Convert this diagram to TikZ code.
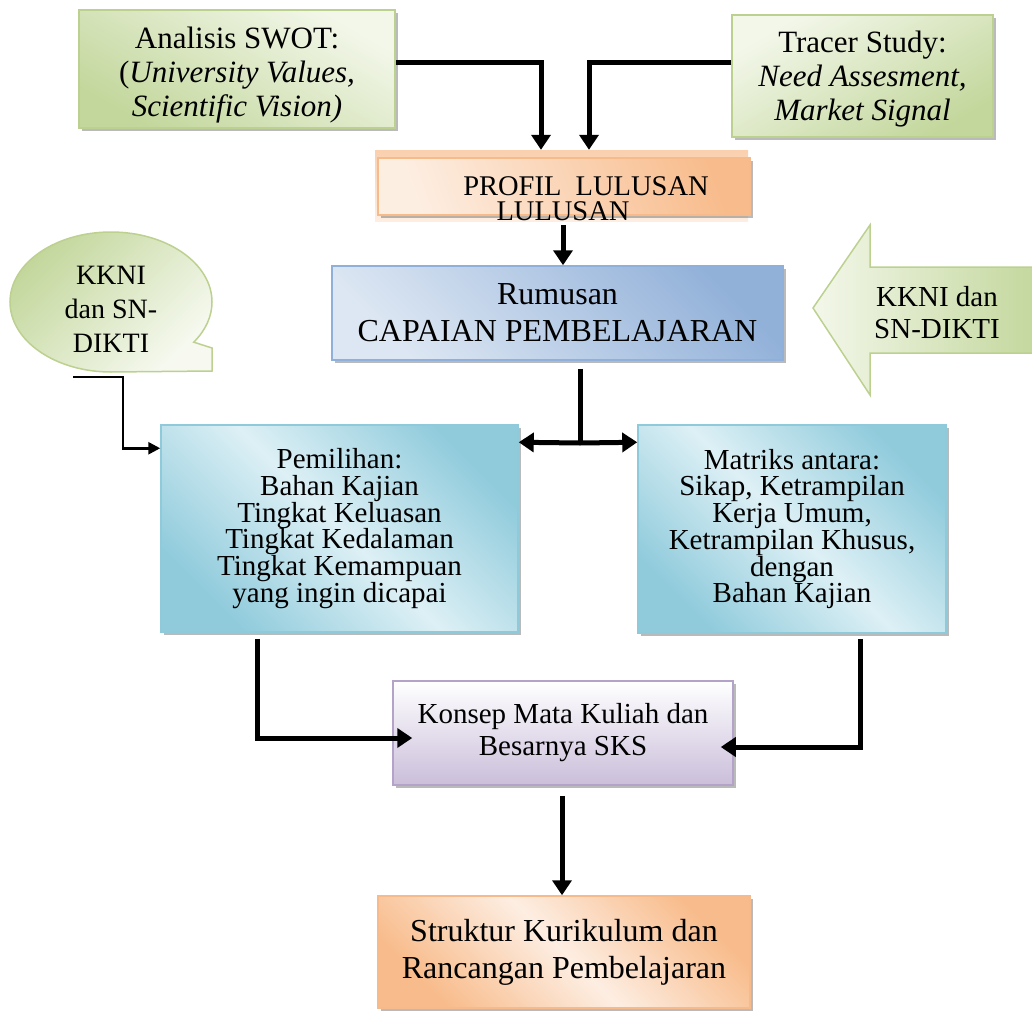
\documentclass[tikz,border=0pt]{standalone}
\usepackage{fontspec}
\setmainfont{Liberation Serif}[ItalicFont={Liberation Serif Italic}]
\usetikzlibrary{arrows.meta,calc,shadows}

% fill and border colours
\definecolor{grnL}{HTML}{F3F7EA}
\definecolor{grnD}{HTML}{C3D79C}
\definecolor{grnB}{HTML}{BCD190}
\definecolor{orgL}{HTML}{FDEEE2}
\definecolor{orgD}{HTML}{F8BC8C}
\definecolor{orgB}{HTML}{F7BA8A}
\definecolor{bluL}{HTML}{DDE7F3}
\definecolor{bluD}{HTML}{92B1D9}
\definecolor{bluB}{HTML}{8EB0DA}
\definecolor{tealL}{HTML}{DDF0F5}
\definecolor{tealD}{HTML}{90CBDC}
\definecolor{tealB}{HTML}{8FCADB}
\definecolor{lavD}{HTML}{CABEDA}
\definecolor{lavB}{HTML}{B3A3C8}

% type sizes (picture unit = 1pt)
\newcommand\sizeTop{\fontsize{31}{34}\selectfont\lineskiplimit=-100pt}
\newcommand\sizeMid{\fontsize{29}{26.7}\selectfont\lineskiplimit=-100pt}
\newcommand\sizeBig{\fontsize{32}{37}\selectfont\lineskiplimit=-100pt}
\newcommand\sizeSml{\fontsize{29}{32}\selectfont\lineskiplimit=-100pt}
\newcommand\sizeProf{\fontsize{28.5}{25}\selectfont}
\newcommand\sizeBub{\fontsize{28}{34}\selectfont\lineskiplimit=-100pt}

\tikzset{
  box/.style={rectangle, line width=1.5pt, align=center, inner sep=0pt,
    drop shadow={shadow xshift=3pt, shadow yshift=-3pt, opacity=.45, fill=black!60}},
  greenbox/.style={box, draw=grnB, top color=grnL, bottom color=grnD},
  orangebox/.style={box, draw=orgB, left color=orgD, right color=orgD, middle color=orgL, shading angle=-45},
  bluebox/.style={box, draw=bluB, top color=bluD, bottom color=bluL, shading angle=-45},
  tealbox/.style={box, draw=tealB, left color=tealD, right color=tealD, middle color=tealL, shading angle=-45},
  lavbox/.style={box, draw=lavB, top color=white, bottom color=lavD},
  label/.style={align=center, inner sep=0pt},
  conn/.style={line width=5pt, line join=miter, -{Triangle[length=15pt,width=19pt]}},
  thinconn/.style={line width=2.6pt, line join=miter, -{Triangle[length=12pt,width=12pt]}},
}

\begin{document}
\begin{tikzpicture}[x=1pt,y=-1pt]
\path[use as bounding box] (0,0) rectangle (1032,1014);

% top sources
\node[greenbox, shading angle=-30, minimum width=316pt, minimum height=118pt] (swot) at (237,69) {};
\node[label, font=\sizeTop] (swotT) at (237,75)
  {Analisis SWOT:\\(\textit{University Values,}\\\textit{Scientific Vision)}};
\node[greenbox, shading angle=30, minimum width=261pt, minimum height=122pt] (tracer) at (862.5,76) {};
\node[label, font=\sizeTop] (tracerT) at (862.5,79)
  {Tracer Study:\\\textit{Need Assesment,}\\\textit{Market Signal}};

% graduate profile box with its glow band
\node[rectangle, inner sep=0pt, minimum width=373pt, minimum height=71pt,
      top color=orgD!70, bottom color=orgL] (profilglow) at (561.5,185.5) {};
\node[box, draw=orgB, left color=orgL, right color=orgD, shading angle=110,
      minimum width=372pt, minimum height=57pt] (profil) at (564,186.5) {};
\node[anchor=base, font=\sizeProf, inner sep=0pt, text depth=0pt] (profilA) at (586,195) {PROFIL\ \ LULUSAN};
\node[anchor=base, font=\sizeProf, inner sep=0pt, text depth=0pt] (profilB) at (563,220) {LULUSAN};

% learning outcomes
\node[bluebox, minimum width=451pt, minimum height=94pt, font=\sizeBig] (rumusan) at (557.5,313)
  {Rumusan\\CAPAIAN PEMBELAJARAN};

% speech bubble on the left
\path[draw=grnB, line width=1.5pt, top color=grnD, bottom color=grnL!70, shading angle=45]
  (212,348) -- (212,371) -- (111,372)
  arc[start angle=90, end angle=395, x radius=101, y radius=70] -- cycle;
\node[label, font=\sizeBub] (kkni) at (111,309) {KKNI\\dan SN-\\DIKTI};

% block arrow on the right
\path[draw=grnB, line width=1.5pt, left color=grnL, right color=grnD]
  (813,308) -- (870,225) -- (870,267) -- (1040,267) -- (1040,353) -- (870,353) -- (870,395) -- cycle;
\node[label, font=\sizeSml] (kkniarrow) at (937,313) {KKNI dan\\SN-DIKTI};

% middle row
\node[tealbox, minimum width=357pt, minimum height=207pt, font=\sizeMid] (pemilihan) at (339.5,528.5)
  {Pemilihan:\\Bahan Kajian\\Tingkat Keluasan\\Tingkat Kedalaman\\Tingkat Kemampuan\\yang ingin dicapai};
\node[tealbox, minimum width=308pt, minimum height=208pt, font=\sizeMid] (matriks) at (792,529)
  {Matriks antara:\\Sikap, Ketrampilan\\Kerja Umum,\\Ketrampilan Khusus,\\dengan\\Bahan Kajian};

% course concept and curriculum structure
\node[lavbox, minimum width=340pt, minimum height=104pt, font=\sizeSml] (konsep) at (563,733)
  {Konsep Mata Kuliah dan\\Besarnya SKS};
\node[orangebox, minimum width=372pt, minimum height=112pt, font=\sizeBig] (struktur) at (564,952)
  {Struktur Kurikulum dan\\Rancangan Pembelajaran};

% connectors
\draw[conn] ($(swot.east)+(0,-6)$) -| ($(profilglow.north)+(-20.5,0)$);
\draw[conn] ($(tracer.west)+(0,-13)$) -| ($(profilglow.north)+(27.5,0)$);
\draw[conn] ($(profilglow.south)+(1.5,4)$) -- ($(rumusan.north)+(5.5,0)$);

\coordinate (split) at (580,443);
\draw[line width=5pt] ($(rumusan.south)+(22.5,8)$) -- (split);
\draw[conn] (split) -- ($(pemilihan.north east)+(0,18)$);
\draw[conn] (split) -- ($(matriks.north west)+(0,18)$);

\coordinate (kkniout) at (73,377);
\draw[thinconn] (kkniout) -- ($(kkniout)+(50,0)$) |- ($(pemilihan.north west)+(0,24)$);

\draw[conn] ($(pemilihan.south)+(-82.5,6)$) |- ($(konsep.west)+(20,5)$);
\draw[conn] ($(matriks.south)+(68,5)$) |- ($(konsep.east)+(-13,14)$);
\draw[conn] ($(konsep.south)+(-1,10)$) -- ($(struktur.north)+(-2,0)$);
\end{tikzpicture}
\end{document}
